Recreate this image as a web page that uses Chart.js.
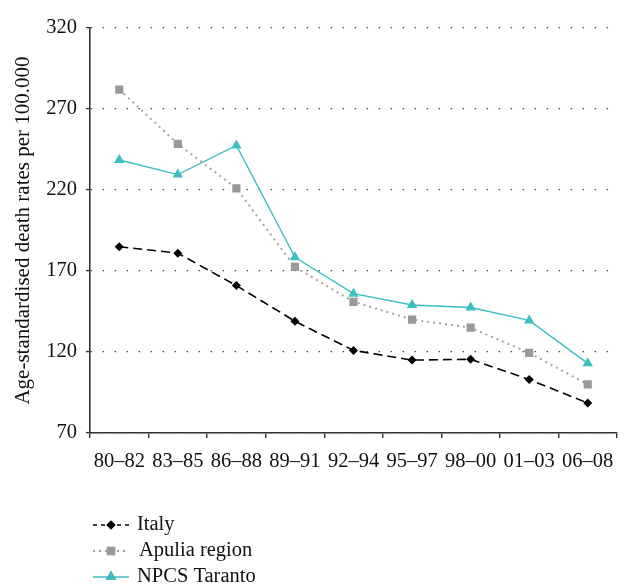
<!DOCTYPE html>
<html>
<head>
<meta charset="utf-8">
<script src="https://cdn.jsdelivr.net/npm/chart.js@4/dist/chart.umd.min.js"></script>
<style>
  html, body { margin: 0; padding: 0; background: #fff; }
  #wrap { width: 629px; height: 584px; }
</style>
</head>
<body>
<div id="wrap"><canvas id="chart" width="629" height="584"></canvas></div>
<script>
const periods = ['80\u201382', '83\u201385', '86\u201388', '89\u201391', '92\u201394', '95\u201397', '98\u201300', '01\u201303', '06\u201308'];
const italy = [185, 181, 161, 139, 121, 115, 115.5, 103, 88.5];
const apulia = [282, 248.5, 221, 172.5, 151, 140, 135, 119.5, 100];
const taranto = [238.5, 229.5, 247.5, 178.5, 156, 149, 147.5, 139.5, 113];
const yTicks = [70, 120, 170, 220, 270, 320];

const FONT = 'Liberation Serif';
const TEAL = '#3cbfc1';

// legend drawn under the chart, line sample + marker + label
const bottomLegend = {
    id: 'bottomLegend',
    afterDraw: (chart) => {
        const ctx = chart.ctx;
        const rows = [525, 551, 577];
        chart.data.datasets.forEach((ds, i) => {
            const y = rows[i];
            ctx.save();
            ctx.strokeStyle = ds.borderColor;
            ctx.lineWidth = ds.borderWidth;
            ctx.setLineDash(i === 0 ? [4, 4] : (ds.borderDash || []));
            ctx.beginPath();
            ctx.moveTo(93, y);
            ctx.lineTo(129, y);
            ctx.stroke();
            ctx.setLineDash([]);
            Chart.helpers.drawPoint(ctx, {
                pointStyle: ds.pointStyle,
                radius: ds.pointRadius,
                borderWidth: 0
            }, 111, y);
            ctx.fillStyle = ds.pointBackgroundColor;
            ctx.fill();
            ctx.fillStyle = '#111';
            ctx.font = '20.5px "' + FONT + '"';
            ctx.textBaseline = 'middle';
            ctx.fillText(ds.label, i === 1 ? 139 : 137, y);
            ctx.restore();
        });
    }
};

new Chart(document.getElementById('chart'), {
    type: 'line',
    data: {
        labels: periods,
        datasets: [
            {
                label: 'Italy',
                data: italy,
                borderColor: '#000',
                borderWidth: 1.6,
                borderDash: [9, 5],
                pointStyle: 'rectRot',
                pointRadius: 4.5,
                pointBackgroundColor: '#000',
                pointBorderWidth: 0,
                tension: 0
            },
            {
                label: 'Apulia region',
                data: apulia,
                borderColor: '#a3a3a3',
                borderWidth: 2,
                borderDash: [2, 4],
                pointStyle: 'rect',
                pointRadius: 5.8,
                pointBackgroundColor: '#999',
                pointBorderWidth: 0,
                tension: 0
            },
            {
                label: 'NPCS Taranto',
                data: taranto,
                borderColor: TEAL,
                borderWidth: 1.4,
                pointStyle: 'triangle',
                pointRadius: 6,
                pointBackgroundColor: TEAL,
                pointBorderWidth: 0,
                tension: 0
            }
        ]
    },
    options: {
        responsive: false,
        animation: false,
        layout: { padding: { top: 28, right: 12, left: 0, bottom: 0 } },
        plugins: {
            legend: { display: false },
            tooltip: { enabled: false }
        },
        scales: {
            x: {
                offset: true,
                afterFit: (scale) => { scale.height = 151; },
                border: { display: true, color: '#333', width: 1.6 },
                grid: {
                    offset: true,
                    drawOnChartArea: false,
                    drawTicks: true,
                    tickLength: 5,
                    color: '#333',
                    lineWidth: 1.4
                },
                ticks: {
                    color: '#111',
                    padding: 11,
                    maxRotation: 0,
                    autoSkip: false,
                    font: { family: FONT, size: 20.5 }
                }
            },
            y: {
                min: 70,
                max: 320,
                afterFit: (scale) => { scale.width = 90; },
                afterBuildTicks: (scale) => {
                    scale.ticks = yTicks.map(v => ({ value: v }));
                },
                border: { display: true, color: '#333', width: 1.6, dash: [1.5, 10.5] },
                grid: {
                    color: '#444',
                    lineWidth: 1.2,
                    drawTicks: true,
                    tickLength: 4,
                    tickColor: '#333',
                    tickWidth: 1.4,
                    tickBorderDash: []
                },
                ticks: {
                    color: '#111',
                    padding: 9,
                    font: { family: FONT, size: 20.5 }
                },
                title: {
                    display: true,
                    text: 'Age-standardised death rates per 100.000',
                    color: '#111',
                    padding: { top: 11, bottom: 0 },
                    font: { family: FONT, size: 21 }
                }
            }
        }
    },
    plugins: [bottomLegend]
});
</script>
</body>
</html>
